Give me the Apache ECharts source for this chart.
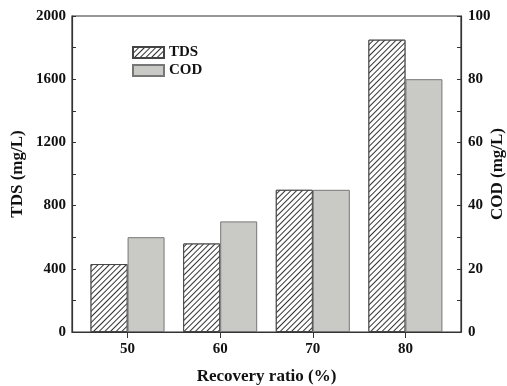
<!DOCTYPE html>
<html>
<head>
<meta charset="utf-8">
<script src="https://cdn.jsdelivr.net/npm/echarts@6/dist/echarts.min.js"></script>
<style>
  html, body { margin: 0; padding: 0; background: #fff; }
  #chart { width: 507px; height: 386px; }
</style>
</head>
<body>
<div id="chart"></div>
<script>
// recovery ratio (%) and measured values
const recovery = [50, 60, 70, 80];
const tds = [430, 560, 900, 1850];   // mg/L, left axis
const cod = [30, 35, 45, 80];        // mg/L, right axis
const xTicks = [50, 60, 70, 80];
const tdsTicks = [0, 200, 400, 600, 800, 1000, 1200, 1400, 1600, 1800, 2000];
const tdsLabels = [0, 400, 800, 1200, 1600, 2000];
const codTicks = [0, 10, 20, 30, 40, 50, 60, 70, 80, 90, 100];
const codLabels = [0, 20, 40, 60, 80, 100];

const font = "'Liberation Serif', 'Times New Roman', serif";
const axisColor = "#333";

const labelStyle = {
  fontFamily: font,
  fontWeight: "bold",
  fontSize: 15,
  color: "#111",
};
const nameStyle = {
  fontFamily: font,
  fontWeight: "bold",
  fontSize: 17,
  color: "#111",
};

const chart = echarts.init(document.getElementById("chart"));

const option = {
  animation: false,
  grid: {
    left: 72,
    right: 46,
    top: 16,
    bottom: 54,
    outerBoundsMode: "none",
    show: true,
    borderColor: axisColor,
    borderWidth: 1.2,
    backgroundColor: "transparent",
  },
  legend: {
    orient: "vertical",
    left: 132,
    top: 45,
    padding: 0,
    itemWidth: 31,
    itemHeight: 11,
    itemGap: 3,
    icon: "rect",
    data: ["TDS", "COD"],
    textStyle: { fontFamily: font, fontWeight: "bold", fontSize: 15, color: "#111" },
  },
  xAxis: {
    type: "value",
    min: 44,
    max: 86,
    name: "Recovery ratio (%)",
    nameLocation: "middle",
    nameGap: 36,
    nameMoveOverlap: false,
    nameTextStyle: nameStyle,
    axisLine: { lineStyle: { color: axisColor, width: 1.2 } },
    axisTick: { inside: false, length: 6, customValues: xTicks, lineStyle: { color: axisColor } },
    axisLabel: { customValues: xTicks, margin: 10, ...labelStyle },
    splitLine: { show: false },
  },
  yAxis: [
    {
      type: "value",
      min: 0,
      max: 2000,
      name: "TDS (mg/L)",
      nameLocation: "middle",
      nameRotate: 90,
      nameGap: 46,
      nameMoveOverlap: false,
      nameTextStyle: nameStyle,
      axisLine: { show: true, lineStyle: { color: axisColor, width: 1.2 } },
      axisTick: { inside: true, length: 4, customValues: tdsTicks, lineStyle: { color: axisColor } },
      axisLabel: { margin: 6, customValues: tdsLabels, formatter: (v) => String(v), ...labelStyle },
      splitLine: { show: false },
    },
    {
      type: "value",
      min: 0,
      max: 100,
      position: "right",
      name: "COD (mg/L)",
      nameLocation: "middle",
      nameRotate: 90,
      nameGap: 28,
      nameMoveOverlap: false,
      nameTextStyle: nameStyle,
      axisLine: { show: true, lineStyle: { color: axisColor, width: 1.2 } },
      axisTick: { inside: true, length: 4, customValues: codTicks, lineStyle: { color: axisColor } },
      axisLabel: { margin: 7, customValues: codLabels, formatter: (v) => String(v), ...labelStyle },
      splitLine: { show: false },
    },
  ],
  series: [
    {
      name: "TDS",
      type: "bar",
      yAxisIndex: 0,
      barWidth: 37,
      barGap: "0%",
      data: recovery.map((r, i) => [r, tds[i]]),
      itemStyle: {
        color: "#fff",
        borderColor: "#444",
        borderWidth: 1,
        decal: {
          symbol: "rect",
          symbolSize: 1,
          color: "#333",
          backgroundColor: "#fff",
          dashArrayX: [1, 0],
          dashArrayY: [1, 3],
          rotation: -Math.PI / 4,
        },
      },
    },
    {
      name: "COD",
      type: "bar",
      yAxisIndex: 1,
      barWidth: 37,
      barGap: "0%",
      data: recovery.map((r, i) => [r, cod[i]]),
      itemStyle: {
        color: "#c9c9c5",
        borderColor: "#777",
        borderWidth: 1,
      },
    },
  ],
};

chart.setOption(option);
</script>
</body>
</html>
